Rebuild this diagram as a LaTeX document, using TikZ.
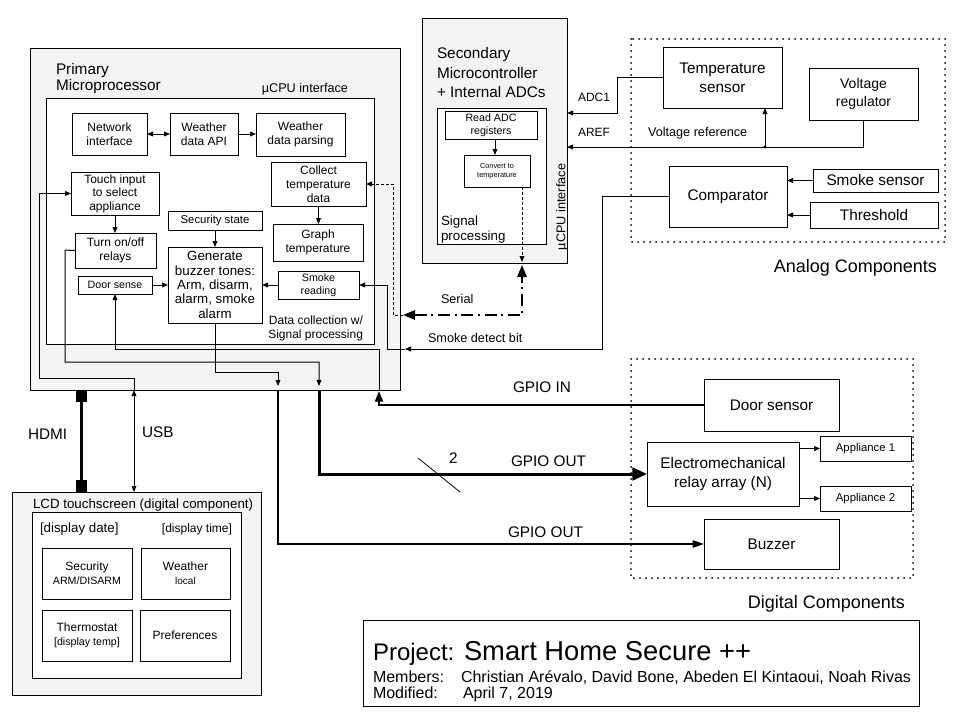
\documentclass[tikz,border=0pt]{standalone}
\usepackage{fontspec}
\setmainfont{Liberation Sans}
\usetikzlibrary{arrows.meta}
\definecolor{panelgray}{HTML}{F3F3F3}
\newcommand\fs[2]{\fontsize{#1}{#2}\selectfont}
\tikzset{
  wh/.style 2 args={minimum width=#1*0.75pt, minimum height=#2*0.75pt},
  box/.style={draw, fill=white, align=center, inner sep=0pt, outer sep=0pt},
  panel/.style={draw, fill=panelgray, inner sep=0pt, outer sep=0pt},
  innerbox/.style={draw, fill=white, inner sep=0pt, outer sep=0pt},
  lbl/.style={inner sep=0pt, outer sep=0pt},
  fa/.style={font=\fs{5.5pt}{6.8pt}},
  fb/.style={font=\fs{8pt}{9.5pt}},
  fc/.style={font=\fs{8.5pt}{10pt}},
  fd/.style={font=\fs{9pt}{10.5pt}},
  ft/.style={font=\fs{9pt}{10.2pt}},
  fe/.style={font=\fs{9.5pt}{10.8pt}},
  ff/.style={font=\fs{10pt}{10.8pt}},
  fg/.style={font=\fs{10.5pt}{13.5pt}},
  fh/.style={font=\fs{11.5pt}{14.5pt}},
  fk/.style={font=\fs{12pt}{13pt}},
  fl/.style={font=\fs{13.5pt}{15pt}},
  arr/.style={-{Triangle[length=4.5pt,width=3.6pt]}},
  dblarr/.style={{Triangle[length=4.5pt,width=3.6pt]}-{Triangle[length=4.5pt,width=3.6pt]}},
  thickarr/.style={line width=2.25pt, -{Triangle[length=11pt,width=9.5pt]}},
  midarr/.style={line width=1.5pt, -{Triangle[length=8pt,width=6pt]}},
  busarr/.style={line width=1.1pt, -{Triangle[length=8.5pt,width=5.5pt]}},
  serialline/.style={line width=1.5pt, dash pattern=on 9pt off 3.5pt on 1.5pt off 3.5pt,
     {Triangle[length=9pt,width=7pt]}-{Triangle[length=9pt,width=7pt]}},
  dashline/.style={dash pattern=on 2.25pt off 1.5pt},
  dotline/.style={line width=1.5pt, dash pattern=on 0pt off 4.5pt, line cap=round},
  hdmiline/.style={line width=2.25pt, {Square[length=9pt,width=8.25pt]}-{Square[length=9pt,width=8.25pt]}},
}
\begin{document}
\begin{tikzpicture}[x=0.75pt,y=-0.75pt,line width=0.75pt]
\useasboundingbox (0,0) rectangle (967,725);

% ---------- Primary microprocessor ----------
\node[panel, wh={370}{342}] (prim) at (215,219) {};
\node[innerbox, wh={328}{246}] (pcpu) at (210,221) {};
\node[lbl, fh, anchor=base west] (primt1) at (56,74) {Primary};
\node[lbl, fh, anchor=base west] (primt2) at (56,90) {Microprocessor};
\node[lbl, fe, anchor=base east] (ucpu) at (348,92) {µCPU interface};

\node[box, wh={75}{42}, fd] (net) at (109.5,134) {Network\\interface};
\node[box, wh={68}{42}, fd] (wapi) at (204,134) {Weather\\data API};
\node[box, wh={89}{43}, fd] (wparse) at (300.5,134.5) {Weather\\data parsing};
\node[box, wh={95}{44}, fd] (collect) at (318.5,184) {Collect\\temperature\\data};
\node[box, wh={88}{43}, ft] (touch) at (115,193.5) {Touch input\\to select\\appliance};
\node[box, wh={94}{19}, fc] (secstate) at (215,220.5) {Security state};
\node[box, wh={94}{76}, ff] (gen) at (215,285) {Generate\\buzzer tones:\\Arm, disarm,\\alarm, smoke\\alarm};
\node[box, wh={81}{35}, fd] (relays) at (115.5,250.5) {Turn on/off\\relays};
\node[box, wh={74}{18}, fb] (door) at (115,285) {Door sense};
\node[box, wh={90}{37}, fd] (graph) at (318,242.5) {Graph\\temperature};
\node[box, wh={81}{28}, fb] (smoke) at (318.5,285) {Smoke\\reading};
\node[lbl, fd, anchor=base east] (dc1) at (363,324) {Data collection w/};
\node[lbl, fd, anchor=base east] (dc2) at (363,338) {Signal processing};

% ---------- Secondary microcontroller ----------
\node[panel, wh={145}{245}] (sec) at (494.5,140.5) {};
\node[innerbox, wh={109}{136}] (secin) at (491.5,176) {};
\node[lbl, fh, anchor=base west] (sect1) at (437,58) {Secondary};
\node[lbl, fh, anchor=base west] (sect2) at (437,78) {Microcontroller};
\node[lbl, fh, anchor=base west] (sect3) at (437,97) {+ Internal ADCs};
\node[box, wh={92}{28}, fb] (readadc) at (491,125) {Read ADC\\registers};
\node[box, wh={66}{32}, fa] (convert) at (497,171) {Convert to\\temperature};
\node[lbl, ff, anchor=base west] (sp1) at (441,225) {Signal};
\node[lbl, ff, anchor=base west] (sp2) at (441,240) {processing};
\node[lbl, fe, rotate=90] (ucpu2) at (562,207) {µCPU interface};

% ---------- Analog components ----------
\draw[dotline] (631,39) rectangle (945,242);
\node[box, wh={119}{61}, fh] (tempsens) at (722.5,77.5) {Temperature\\sensor};
\node[box, wh={109}{52}, fg] (vreg) at (863.5,94) {Voltage\\regulator};
\node[box, wh={118}{61}, fh] (comp) at (728,196.5) {Comparator};
\node[box, wh={125}{23}, fh] (smokesens) at (875.5,180.5) {Smoke sensor};
\node[box, wh={128}{26}, fh] (thresh) at (874,215) {Threshold};
\node[lbl, fl, anchor=base east] (analog) at (937,272) {Analog Components};

% ---------- Digital components ----------
\draw[dotline] (631,359) rectangle (913,578);
\node[box, wh={135}{52}, fh] (doorsens) at (771.5,405) {Door sensor};
\node[box, wh={152}{64}, fh] (relay) at (723,474) {Electromechanical\\relay array (N)};
\node[box, wh={91}{25}, fc] (app1) at (865.5,448.5) {Appliance 1};
\node[box, wh={91}{25}, fc] (app2) at (865.5,498.5) {Appliance 2};
\node[box, wh={135}{50}, fh] (buzzer) at (771.5,544) {Buzzer};
\node[lbl, fl, anchor=base east] (digital) at (905,608) {Digital Components};

% ---------- LCD ----------
\node[panel, wh={249}{203}] (lcd) at (136.5,593.5) {};
\node[innerbox, wh={209}{166}] (lcdin) at (136.5,595) {};
\node[lbl, ff, anchor=base west] (lcdt) at (33,508) {LCD touchscreen (digital component)};
\node[lbl, ff, anchor=base west] (ddate) at (40,532) {[display date]};
\node[lbl, fd, anchor=base east] (dtime) at (232,532) {[display time]};
\node[box, wh={90}{51}, fd] (secur) at (87,573.5) {Security\\{\fs{8pt}{9.5pt}ARM/DISARM}};
\node[box, wh={89}{51}, fd] (weather) at (185.5,573.5) {Weather\\{\fs{7.5pt}{9.5pt}local}};
\node[box, wh={90}{51}, fd] (thermo) at (87,635.5) {Thermostat\\{\fs{8pt}{9.5pt}[display temp]}};
\node[box, wh={90}{51}, fd] (prefs) at (185,635.5) {Preferences};

% ---------- Project box ----------
\node[box, wh={556}{86}] (proj) at (641,663) {};
\node[lbl, anchor=base west, font=\fs{18pt}{20pt}] (pj) at (373,660) {Project:};
\node[lbl, anchor=base west, font=\fs{20.5pt}{23pt}] (pjn) at (464,660) {Smart Home Secure ++};
\node[lbl, anchor=base west, fk] (mem) at (373,682) {Members:};
\node[lbl, anchor=base west, fk] (memn) at (461,682) {Christian Arévalo, David Bone, Abeden El Kintaoui, Noah Rivas};
\node[lbl, anchor=base west, fk] (modl) at (373,698) {Modified:};
\node[lbl, anchor=base west, fk] (modd) at (463,698) {April 7, 2019};

% ---------- Internal connectors ----------
\draw[dblarr] (net.east) -- (wapi.west);
\draw[arr] (wapi.east) -- (wparse.west |- wapi.east);
\draw[arr] (collect.south) -- (collect.south |- graph.north);
\draw[arr] (touch.south) -- (touch.south |- relays.north);
\draw[arr] (secstate.south) -- (gen.north);
\draw[arr] (door.east) -- (gen.west);
\draw[arr] (smoke.west) -- (gen.east);
\coordinate (rax) at (495,0);
\draw[arr] (readadc.south -| rax) -- (convert.north -| rax);

% ---------- Named points ----------
\coordinate (gb1) at (278,386);
\coordinate (rb1) at (319,386);
\coordinate (gi) at (379,391);
\coordinate (usbx) at (134,0);
\coordinate (hx) at (81.5,0);
\coordinate (a1) at (617,113);
\coordinate (ar) at (765,147);
\coordinate (sd) at (405,349);
\coordinate (s1) at (403,315);
\coordinate (s2) at (522,265);
\coordinate (cv) at (522,262);

% buzzer path
\draw[arr] (gen.south) |- (278,372) -- (gb1);
\draw[busarr] (prim.south -| gb1) |- (buzzer.west);
% relay path
\draw[arr] (relays.west) -- (65,250) -- (65,362) -| (rb1);
\draw[thickarr] (prim.south -| rb1) |- (relay.west);
% door sensor path
\draw[midarr] (doorsens.west) -| (gi);
\draw[arr] (prim.south -| gi) -- (379,349) -| (door.south);
% USB and touch
\draw[dblarr] (prim.south -| usbx) -- (lcd.north -| usbx);
\draw[arr] (prim.south -| usbx) -- (134,378) -| (39,193.5) -- (touch.west);
% HDMI
\draw[hdmiline] (prim.south -| hx) -- (lcd.north -| hx);
% ADC1 and AREF
\draw[arr] (tempsens.west) -| (a1) -- (sec.east |- a1);
\draw[arr] (vreg.south) |- (sec.east |- ar);
\fill (ar) circle (1.3pt);
\draw[arr] (ar) -- (tempsens.south -| ar);
% comparator inputs
\draw[arr] (smokesens.west) -- (comp.east |- smokesens.west);
\draw[arr] (thresh.west) -- (comp.east |- thresh.west);
% smoke detect bit
\draw[arr] (comp.west) -- (602,196.5) |- (sd);
\draw[arr] (sd) -- (387,349) |- (smoke.east);
% serial
\draw[arr, dashline] (convert.south -| cv) -- (cv);
\draw[serialline] (s1) -- (522,315) -- (s2);
\draw[arr, dashline] (s1) -- (393,315) |- (collect.east);
% relay outputs
\draw[arr] (relay.east |- app1.west) -- (app1.west);
\draw[arr] (relay.east |- app2.west) -- (app2.west);
% bus slash
\draw[line width=0.6pt] (418,458) -- (460,492);

% ---------- Connector labels ----------
\node[lbl, fh, anchor=base west] (lgin) at (513,392) {GPIO IN};
\node[lbl, fh, anchor=base west] (lgout1) at (511,466) {GPIO OUT};
\node[lbl, fh, anchor=base west] (lgout2) at (508,537) {GPIO OUT};
\node[lbl, fh, anchor=base west] (ltwo) at (449,463) {2};
\node[lbl, fe, anchor=base west] (lser) at (441,303) {Serial};
\node[lbl, fe, anchor=base west] (lsdb) at (428,342) {Smoke detect bit};
\node[lbl, fd, anchor=base west] (ladc) at (578,101) {ADC1};
\node[lbl, fd, anchor=base west] (laref) at (578,136) {AREF};
\node[lbl, fe, anchor=base west] (lvref) at (648,136) {Voltage reference};
\node[lbl, fh, anchor=base west] (lhdmi) at (28,439) {HDMI};
\node[lbl, fh, anchor=base west] (lusb) at (142,437) {USB};
\end{tikzpicture}
\end{document}
